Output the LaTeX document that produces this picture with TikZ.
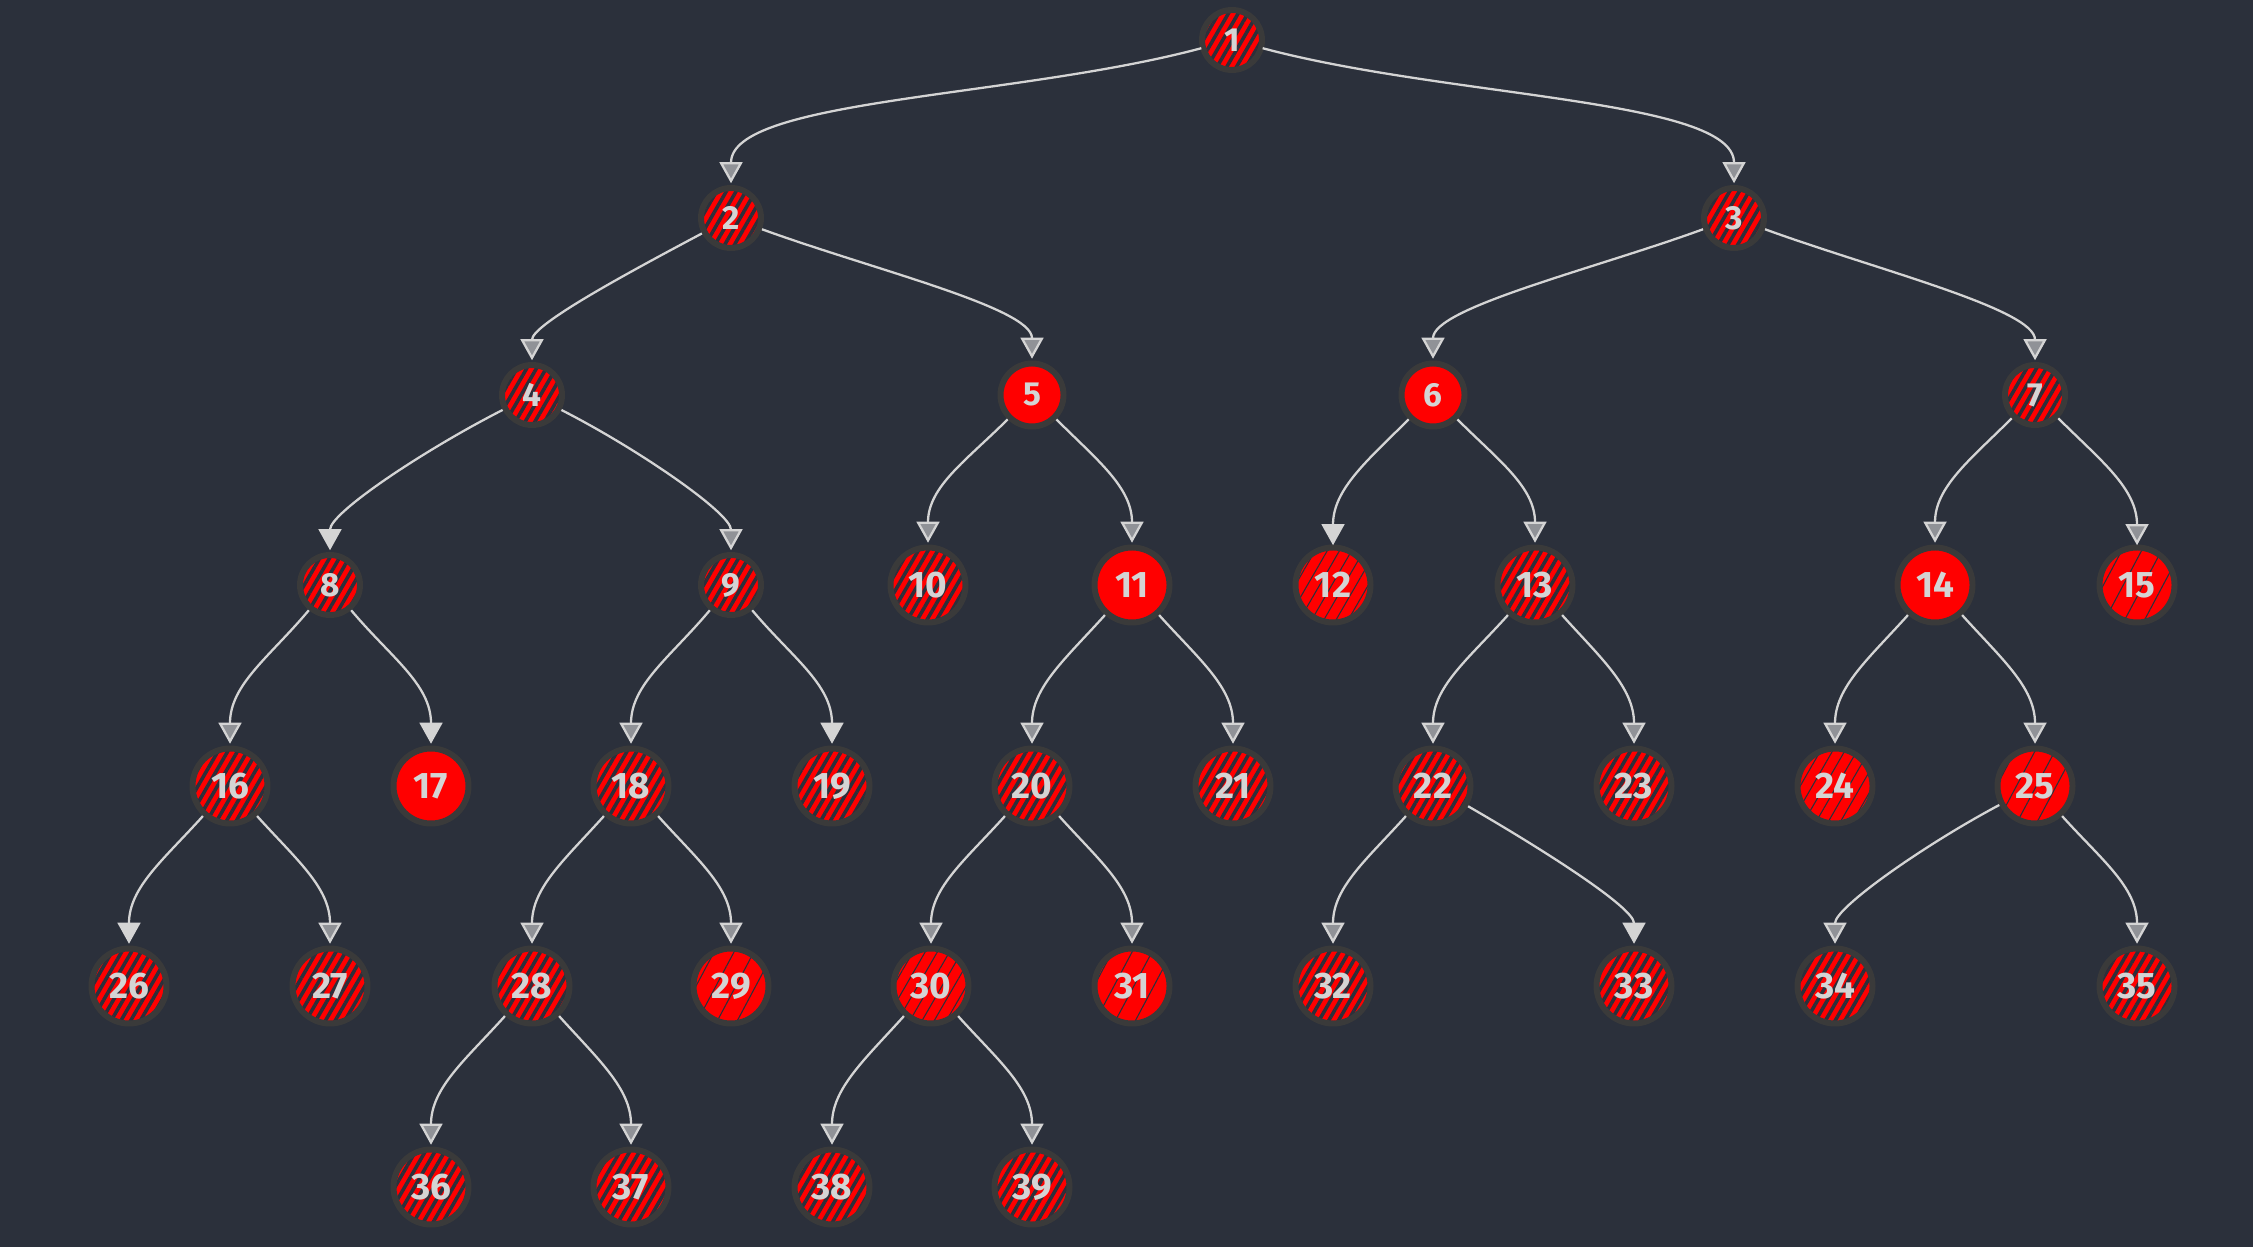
\documentclass[tikz,border=0pt]{standalone}
\usepackage{fontspec}
\setmainfont{Fira Sans}
\usepackage{tikz}
\usetikzlibrary{arrows.meta,patterns.meta}
\definecolor{bg}{RGB}{43,48,59}
\definecolor{ink}{RGB}{212,212,212}
\definecolor{rim}{RGB}{58,58,58}
\definecolor{nodered}{RGB}{255,0,0}

\begin{document}
\begin{tikzpicture}[x=0.1mm,y=0.1mm,
  base/.style={circle,draw=rim,line width=1.7pt,text=ink,inner sep=0pt,minimum size=7.5mm,font=\fontsize{10.5}{12}\selectfont\bfseries},
  small/.style={minimum size=6mm,font=\fontsize{9.5}{11}\selectfont\bfseries},
  solidnode/.style={base,fill=nodered},
  hatchnode/.style={base,preaction={fill=nodered},pattern={Lines[angle=60,distance=2.4pt,line width=1pt]},pattern color=bg},
  finenode/.style={base,preaction={fill=nodered},pattern={Lines[angle=60,distance=3pt,line width=0.3pt]},pattern color=bg},
  faintnode/.style={base,preaction={fill=nodered},pattern={Lines[angle=62,distance=5pt,line width=0.3pt]},pattern color=bg},
  link/.style={draw=ink,line width=0.65pt,-{Triangle[width=6.5pt,length=6pt,fill=ink!60!bg]},shorten >=0.5pt},
  linkfull/.style={link,-{Triangle[width=6.5pt,length=6pt,fill=ink]}},
  wide/.style={out looseness=1,in looseness=0.45}]
\fill[bg] (0,0) rectangle (2253,-1247);
\node[hatchnode,small] (n1) at (1232,-40) {1};
\node[hatchnode,small] (n2) at (731,-218) {2};
\node[hatchnode,small] (n3) at (1734,-218) {3};
\node[hatchnode,small] (n4) at (532,-395) {4};
\node[solidnode,small,minimum size=6.3mm] (n5) at (1032,-395) {5};
\node[solidnode,small,minimum size=6.3mm] (n6) at (1433,-395) {6};
\node[hatchnode,small] (n7) at (2035,-395) {7};
\node[hatchnode,small] (n8) at (330,-585) {8};
\node[hatchnode,small] (n9) at (731,-585) {9};
\node[hatchnode] (n10) at (928,-585) {10};
\node[solidnode] (n11) at (1132,-585) {11};
\node[finenode] (n12) at (1333,-585) {12};
\node[hatchnode] (n13) at (1535,-585) {13};
\node[solidnode] (n14) at (1935,-585) {14};
\node[faintnode] (n15) at (2137,-585) {15};
\node[hatchnode] (n16) at (230,-786) {16};
\node[solidnode] (n17) at (431,-786) {17};
\node[hatchnode] (n18) at (631,-786) {18};
\node[hatchnode] (n19) at (832,-786) {19};
\node[hatchnode] (n20) at (1032,-786) {20};
\node[hatchnode] (n21) at (1233,-786) {21};
\node[hatchnode] (n22) at (1433,-786) {22};
\node[hatchnode] (n23) at (1634,-786) {23};
\node[finenode] (n24) at (1835,-786) {24};
\node[faintnode] (n25) at (2035,-786) {25};
\node[hatchnode] (n26) at (129,-986) {26};
\node[hatchnode] (n27) at (330,-986) {27};
\node[hatchnode] (n28) at (532,-986) {28};
\node[faintnode] (n29) at (731,-986) {29};
\node[finenode] (n30) at (931,-986) {30};
\node[faintnode] (n31) at (1132,-986) {31};
\node[hatchnode] (n32) at (1333,-986) {32};
\node[hatchnode] (n33) at (1634,-986) {33};
\node[hatchnode] (n34) at (1835,-986) {34};
\node[hatchnode] (n35) at (2137,-986) {35};
\node[hatchnode] (n36) at (431,-1187) {36};
\node[hatchnode] (n37) at (631,-1187) {37};
\node[hatchnode] (n38) at (832,-1187) {38};
\node[hatchnode] (n39) at (1032,-1187) {39};
\draw[link] (n1.195) to[out=195,in=90,wide] (n2.north);
\draw[link] (n1.-15) to[out=-15,in=90,wide] (n3.north);
\draw[link] (n2.208) to[out=208,in=90,wide] (n4.north);
\draw[link] (n2.-20) to[out=-20,in=90,wide] (n5.north);
\draw[link] (n3.200) to[out=200,in=90,wide] (n6.north);
\draw[link] (n3.-20) to[out=-20,in=90,wide] (n7.north);
\draw[linkfull] (n4.207) to[out=207,in=90,wide] (n8.north);
\draw[link] (n4.-27) to[out=-27,in=90,wide] (n9.north);
\draw[link] (n5.225) to[out=225,in=90] (n10.north);
\draw[link] (n5.-45) to[out=-45,in=90] (n11.north);
\draw[linkfull] (n6.225) to[out=225,in=90] (n12.north);
\draw[link] (n6.-45) to[out=-45,in=90] (n13.north);
\draw[link] (n7.225) to[out=225,in=90] (n14.north);
\draw[link] (n7.-45) to[out=-45,in=90] (n15.north);
\draw[link] (n8.230) to[out=230,in=90] (n16.north);
\draw[linkfull] (n8.-50) to[out=-50,in=90] (n17.north);
\draw[link] (n9.230) to[out=230,in=90] (n18.north);
\draw[linkfull] (n9.-50) to[out=-50,in=90] (n19.north);
\draw[link] (n11.228) to[out=228,in=90] (n20.north);
\draw[link] (n11.-48) to[out=-48,in=90] (n21.north);
\draw[link] (n13.228) to[out=228,in=90] (n22.north);
\draw[link] (n13.-48) to[out=-48,in=90] (n23.north);
\draw[link] (n14.228) to[out=228,in=90] (n24.north);
\draw[link] (n14.-48) to[out=-48,in=90] (n25.north);
\draw[linkfull] (n16.228) to[out=228,in=90] (n26.north);
\draw[link] (n16.-48) to[out=-48,in=90] (n27.north);
\draw[link] (n18.228) to[out=228,in=90] (n28.north);
\draw[link] (n18.-48) to[out=-48,in=90] (n29.north);
\draw[link] (n20.228) to[out=228,in=90] (n30.north);
\draw[link] (n20.-48) to[out=-48,in=90] (n31.north);
\draw[link] (n22.228) to[out=228,in=90] (n32.north);
\draw[linkfull] (n22.-30) to[out=-30,in=90,wide] (n33.north);
\draw[link] (n25.208) to[out=208,in=90,wide] (n34.north);
\draw[link] (n25.-48) to[out=-48,in=90] (n35.north);
\draw[link] (n28.228) to[out=228,in=90] (n36.north);
\draw[link] (n28.-48) to[out=-48,in=90] (n37.north);
\draw[link] (n30.228) to[out=228,in=90] (n38.north);
\draw[link] (n30.-48) to[out=-48,in=90] (n39.north);
\end{tikzpicture}
\end{document}
